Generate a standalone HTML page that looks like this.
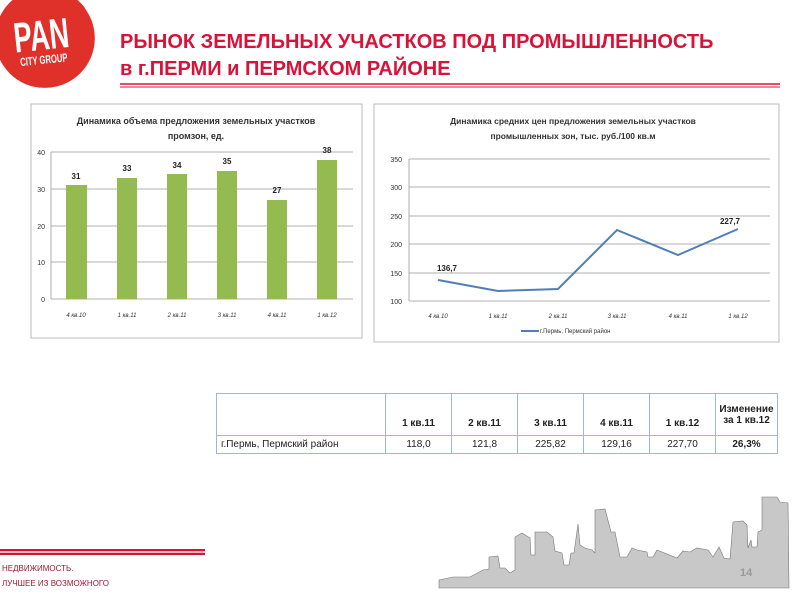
<!DOCTYPE html>
<html><head><meta charset="utf-8"><style>
body{margin:0;width:800px;height:600px;background:#fff;overflow:hidden;position:relative;font-family:"Liberation Sans",sans-serif}
.t{position:absolute;left:120px;color:#d8133a;font-weight:bold;font-size:20px;white-space:nowrap}
table{position:absolute;left:216px;top:393px;border-collapse:collapse;font-size:10px;color:#222}
td{border:1.5px solid #9fb6d6;text-align:center;padding:0}
</style></head><body>
<svg width="800" height="600" style="position:absolute;left:0;top:0" font-family="Liberation Sans, sans-serif">
<circle cx="45" cy="38" r="50" fill="#e0302a"/>
<path d="M85 8 A50 50 0 0 1 40 88" fill="none" stroke="#fff" stroke-width="1" opacity="0.7"/>
<g transform="rotate(-6 40 40)">
<text x="0" y="0" font-size="34" font-weight="bold" fill="#fff" transform="translate(14 50) scale(0.8 1.25)">PAN</text>
<text x="0" y="0" font-size="9" font-weight="bold" fill="#fff" transform="translate(18 64) scale(0.85 1.3)">CITY GROUP</text>
</g>
<line x1="120" y1="84" x2="780" y2="84" stroke="#d8133a" stroke-width="1.5"/>
<line x1="120" y1="87" x2="780" y2="87" stroke="#d8133a" stroke-width="1"/>
<!-- left chart -->
<rect x="31" y="104" width="331" height="234" fill="#fff" stroke="#bbb"/>
<text x="196" y="124" font-size="9" font-weight="bold" text-anchor="middle" fill="#333">Динамика объема предложения земельных участков</text>
<text x="196" y="139" font-size="9" font-weight="bold" text-anchor="middle" fill="#333">промзон, ед.</text>
<g stroke="#999" stroke-width="0.8">
<line x1="51" y1="152" x2="353" y2="152"/><line x1="51" y1="189" x2="353" y2="189"/><line x1="51" y1="226" x2="353" y2="226"/><line x1="51" y1="262" x2="353" y2="262"/><line x1="51" y1="299" x2="353" y2="299"/><line x1="51" y1="152" x2="51" y2="299"/>
</g>
<g font-size="7" fill="#333" text-anchor="end"><text x="45" y="155">40</text><text x="45" y="192">30</text><text x="45" y="229">20</text><text x="45" y="265">10</text><text x="45" y="302">0</text></g>
<g fill="#94bb4f">
<rect x="66" y="185" width="21" height="114"/><rect x="117" y="178" width="20" height="121"/><rect x="167" y="174" width="20" height="125"/><rect x="217" y="171" width="20" height="128"/><rect x="267" y="200" width="20" height="99"/><rect x="317" y="160" width="20" height="139"/>
</g>
<g font-size="8" font-weight="bold" fill="#222" text-anchor="middle"><text x="76" y="179">31</text><text x="127" y="171">33</text><text x="177" y="168">34</text><text x="227" y="164">35</text><text x="277" y="193">27</text><text x="327" y="153">38</text></g>
<g font-size="6" font-style="italic" fill="#333" text-anchor="middle"><text x="76" y="317">4 кв.10</text><text x="127" y="317">1 кв.11</text><text x="177" y="317">2 кв.11</text><text x="227" y="317">3 кв.11</text><text x="277" y="317">4 кв.11</text><text x="327" y="317">1 кв.12</text></g>
<!-- right chart -->
<rect x="374" y="104" width="405" height="238" fill="#fff" stroke="#bbb"/>
<text x="573" y="124" font-size="8.5" font-weight="bold" text-anchor="middle" fill="#333">Динамика средних цен предложения земельных участков</text>
<text x="573" y="139" font-size="8.5" font-weight="bold" text-anchor="middle" fill="#333">промышленных зон, тыс. руб./100 кв.м</text>
<g stroke="#999" stroke-width="0.8">
<line x1="409" y1="159" x2="770" y2="159"/><line x1="409" y1="187" x2="770" y2="187"/><line x1="409" y1="216" x2="770" y2="216"/><line x1="409" y1="244" x2="770" y2="244"/><line x1="409" y1="273" x2="770" y2="273"/><line x1="409" y1="301" x2="770" y2="301"/><line x1="409" y1="159" x2="409" y2="301"/>
</g>
<g font-size="7" fill="#333" text-anchor="end"><text x="402" y="162">350</text><text x="402" y="190">300</text><text x="402" y="219">250</text><text x="402" y="247">200</text><text x="402" y="276">150</text><text x="402" y="304">100</text></g>
<polyline points="438,280 498,291 558,289 617,230 678,255 738,229" fill="none" stroke="#4f7fb8" stroke-width="2"/>
<g font-size="8" font-weight="bold" fill="#222" text-anchor="middle"><text x="447" y="271">136,7</text><text x="730" y="224">227,7</text></g>
<g font-size="6" font-style="italic" fill="#333" text-anchor="middle"><text x="438" y="318">4 кв.10</text><text x="498" y="318">1 кв.11</text><text x="558" y="318">2 кв.11</text><text x="617" y="318">3 кв.11</text><text x="678" y="318">4 кв.11</text><text x="738" y="318">1 кв.12</text></g>
<line x1="521" y1="331" x2="539" y2="331" stroke="#4f7fb8" stroke-width="2"/>
<text x="540" y="333" font-size="6" fill="#333">г.Пермь, Пермский район</text>
<!-- bottom -->
<rect x="0" y="549" width="205" height="2" fill="#d8133a"/><rect x="0" y="553" width="205" height="2" fill="#d8133a"/><rect x="0" y="551" width="205" height="2" fill="#f4b6b6"/>
<text x="2" y="571" font-size="8" fill="#a01830">НЕДВИЖИМОСТЬ.</text>
<text x="2" y="586" font-size="8" fill="#a01830">ЛУЧШЕЕ ИЗ ВОЗМОЖНОГО</text>
<polygon points="439,588 439,580 453,577 470,577 483,570 489,569 489,557 498,556 500,568 505,568 510,573 515,570 515,537 522,533 530,538 531,555 535,555 535,532 547,532 553,537 555,551 562,553 564,565 569,565 571,553 574,553 578,524 580,545 585,548 592,550 595,553 595,510 605,509 611,532 615,532 620,557 627,557 632,548 637,550 647,552 648,557 653,557 657,550 677,558 683,551 690,552 697,548 708,550 713,557 719,547 724,558 730,559 733,522 743,521 747,525 748,548 751,540 752,547 757,547 758,532 762,530 762,497 777,497 780,502 788,503 789,588" fill="#c8c8c8" stroke="#777" stroke-width="0.6"/>
<text x="740" y="576" font-size="11" font-weight="bold" fill="#999">14</text>
</svg>
<div class="t" style="top:31px">РЫНОК ЗЕМЕЛЬНЫХ УЧАСТКОВ ПОД ПРОМЫШЛЕННОСТЬ</div>
<div class="t" style="top:58px">в г.ПЕРМИ и ПЕРМСКОМ РАЙОНЕ</div>
<table>
<tr style="height:42px;font-weight:bold"><td style="width:168px"></td><td style="width:65px;vertical-align:bottom;padding-bottom:6px">1 кв.11</td><td style="width:65px;vertical-align:bottom;padding-bottom:6px">2 кв.11</td><td style="width:65px;vertical-align:bottom;padding-bottom:6px">3 кв.11</td><td style="width:65px;vertical-align:bottom;padding-bottom:6px">4 кв.11</td><td style="width:65px;vertical-align:bottom;padding-bottom:6px">1 кв.12</td><td style="width:61px">Изменение<br>за 1 кв.12</td></tr>
<tr style="height:18px"><td style="text-align:left;padding-left:4px">г.Пермь, Пермский район</td><td>118,0</td><td>121,8</td><td>225,82</td><td>129,16</td><td>227,70</td><td style="font-weight:bold">26,3%</td></tr>
</table>
</body></html>
